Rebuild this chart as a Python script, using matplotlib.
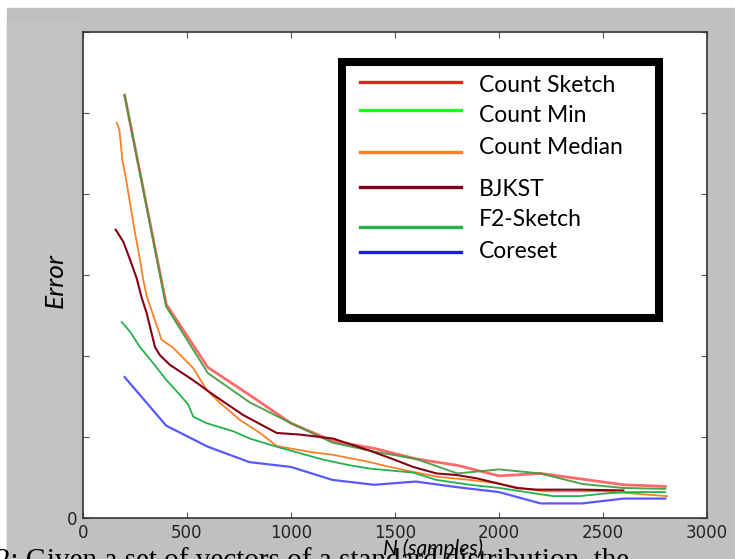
import numpy as np
import matplotlib
matplotlib.use("Agg")
import matplotlib.pyplot as plt
from matplotlib.patches import Rectangle
from matplotlib.lines import Line2D

# values (error in tick units, ticks unlabeled except 0)
n_grid = [200, 400, 600, 800, 1000, 1200, 1400, 1600, 1800, 2000, 2200, 2400, 2600, 2800]
count_sketch = [5.22, 2.64, 1.86, 1.52, 1.17, 0.95, 0.86, 0.73, 0.65, 0.52, 0.55, 0.48, 0.41, 0.39]
count_min = [5.22, 2.61, 1.79, 1.43, 1.17, 0.93, 0.82, 0.73, 0.55, 0.60, 0.55, 0.42, 0.37, 0.36]

median_n = [162, 175, 184, 189, 205, 226, 247, 274, 290, 306, 378, 434, 530, 595, 659, 755,
            851, 931, 995, 1106, 1202, 1380, 1476, 1587, 1702, 1861, 1990, 2101, 2212, 2500, 2808]
count_median = [4.88, 4.79, 4.56, 4.42, 4.21, 3.89, 3.56, 3.19, 2.94, 2.74, 2.20, 2.10, 1.85, 1.58, 1.42, 1.21,
                1.05, 0.89, 0.86, 0.81, 0.78, 0.69, 0.63, 0.57, 0.51, 0.47, 0.43, 0.37, 0.33, 0.33, 0.27]

bjkst_n = [157, 194, 226, 258, 282, 306, 346, 370, 418, 530, 627, 771, 931, 1043, 1203, 1380,
           1476, 1588, 1700, 1797, 1893, 1989, 2085, 2181, 2405, 2598]
bjkst = [3.56, 3.41, 3.19, 2.96, 2.72, 2.53, 2.11, 2.01, 1.89, 1.70, 1.52, 1.27, 1.05, 1.03, 0.98, 0.83,
         0.74, 0.63, 0.55, 0.53, 0.49, 0.43, 0.37, 0.35, 0.35, 0.34]

f2_n = [186, 226, 274, 338, 402, 466, 506, 530, 595, 723, 803, 931, 1043, 1155, 1284, 1380,
        1588, 1700, 1861, 2005, 2181, 2261, 2389, 2501, 2598, 2798]
f2_sketch = [2.42, 2.30, 2.11, 1.91, 1.70, 1.52, 1.40, 1.25, 1.17, 1.07, 0.98, 0.88, 0.80, 0.72, 0.65, 0.61,
             0.56, 0.47, 0.41, 0.37, 0.30, 0.27, 0.27, 0.30, 0.32, 0.32]

coreset = [1.74, 1.14, 0.88, 0.69, 0.63, 0.47, 0.41, 0.45, 0.38, 0.32, 0.18, 0.18, 0.24, 0.24]

legend_labels = ["Count Sketch", "Count Min", "Count Median", "BJKST", "F2-Sketch", "Coreset"]
legend_colors = ["#ff1a1a", "#1aff1a", "#ff7f27", "#880015", "#22b14c", "#1a1aff"]

fig = plt.figure(figsize=(7.35, 5.59), dpi=100, facecolor="white")
# grey screenshot background
fig.patches.append(Rectangle((7 / 735, 0), 1, 551 / 559, transform=fig.transFigure,
                             color="#c0c0c0", zorder=-2))
fig.patches.append(Rectangle((7 / 735, 0), 72 / 735, 538 / 559, transform=fig.transFigure,
                             color="#c3c3c3", zorder=-1))

ax = fig.add_axes([83 / 735, 41 / 559, 624 / 735, 486 / 559])
ax.set_facecolor("white")

ax.plot(n_grid, count_sketch, color="#ff2a2a", lw=2.0, alpha=0.7)
ax.plot(n_grid, count_min, color="#3d9a3a", lw=1.4, alpha=0.9)
ax.plot(median_n, count_median, color="#ff7f27", lw=1.3)
ax.plot(bjkst_n, bjkst, color="#880015", lw=1.5)
ax.plot(f2_n, f2_sketch, color="#22b14c", lw=1.3)
ax.plot(n_grid, coreset, color="#4646ff", lw=1.6, alpha=0.9)

ax.set_xlim(0, 3000)
ax.set_ylim(0, 6)
ax.set_xticks(range(0, 3001, 500))
ax.set_yticks(range(0, 7))
ax.set_yticklabels(["0", "", "", "", "", "", ""])
ax.tick_params(direction="in", length=4, width=0.8, color="#555555",
               top=True, right=True, labelsize=12, labelcolor="#222222", pad=4)
for s in ax.spines.values():
    s.set_color("#333333")
    s.set_linewidth(1.2)

# pasted-on legend box
ax.add_patch(Rectangle((0.415, 0.4115), 0.508, 0.5265, transform=ax.transAxes,
                       facecolor="white", edgecolor="black", lw=5.8, zorder=5))
line_y = [82, 110, 152, 187, 227, 252]
text_y = [86, 116, 147, 189, 220, 251]
for lab, col, ly, ty in zip(legend_labels, legend_colors, line_y, text_y):
    ax.add_line(Line2D([(360 - 83) / 624, (461 - 83) / 624], [(518 - ly) / 486] * 2,
                       transform=ax.transAxes, color=col, lw=2.4, zorder=6))
    ax.text((479 - 83) / 624, (518 - ty) / 486, lab, transform=ax.transAxes,
            fontsize=16.5, family="Lato", va="center", ha="left", zorder=6)

fig.text(55 / 735, 1 - 280 / 559, "Error", rotation=90, fontsize=19, family="Lato",
         style="italic", ha="center", va="center")
# caption of the paper, only its upper part shows in the screenshot
fig.text(-4 / 735, 1 - 548 / 559, "2: Given a set of vectors of a standard distribution, the",
         fontsize=21, family="Liberation Serif", ha="left", va="top")
fig.text(433 / 735, 1 - 549 / 559, "N (samples)", fontsize=15, family="Lato",
         style="italic", ha="center", va="center")

fig.savefig("out.png", dpi=100, facecolor=fig.get_facecolor())
